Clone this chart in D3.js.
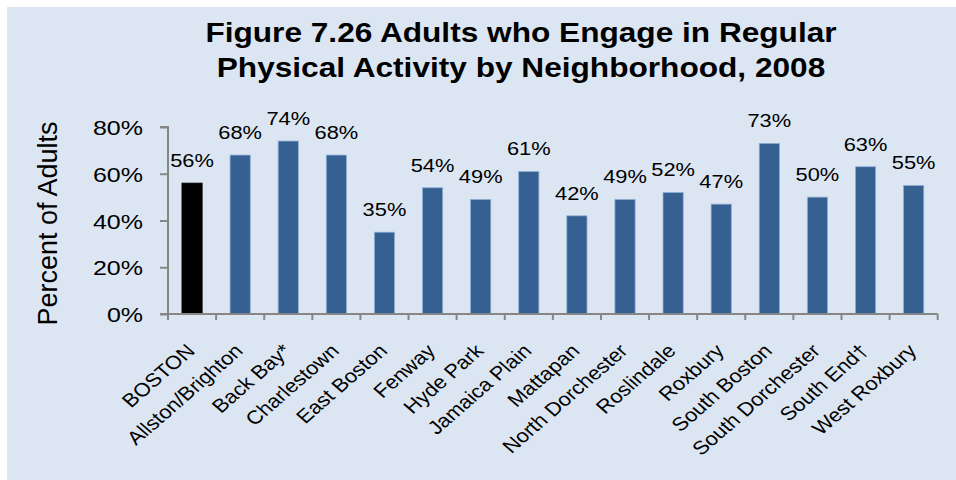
<!DOCTYPE html>
<html><head><meta charset="utf-8">
<script src="https://cdn.jsdelivr.net/npm/d3@7"></script>
<style>body{margin:0;background:#fff}svg{display:block}text{font-family:"Liberation Sans",Arial,sans-serif}</style>
</head><body>
<svg id="c" width="956" height="480"></svg>
<script>
const categories = ["BOSTON","Allston/Brighton","Back Bay*","Charlestown","East Boston","Fenway","Hyde Park","Jamaica Plain","Mattapan","North Dorchester","Roslindale","Roxbury","South Boston","South Dorchester","South End\u2020","West Roxbury"];
const values = [56,68,74,68,35,54,49,61,42,49,52,47,73,50,63,55];
const yTicks = [0,20,40,60,80];
const titleLines = ["Figure 7.26 Adults who Engage in Regular","Physical Activity by Neighborhood, 2008"];
const yTitle = "Percent of Adults";

const SX = 1.15; // horizontal stretch of text seen in the reference
const svg = d3.select("#c");
svg.append("rect").attr("x",7).attr("y",7).attr("width",949).attr("height",473).attr("fill","#dce6f2");

const m = {left:168, right:937.7, top:127, bottom:314};
const x = d3.scaleBand().domain(categories).range([m.left, m.right]).paddingInner(0.58).paddingOuter(0.29);
const xb = d3.scaleBand().domain(categories).range([m.left, m.right]);
const y = d3.scaleLinear().domain([0,80]).range([m.bottom, m.top]);

// title
svg.append("g").selectAll("text").data(titleLines).join("text")
  .attr("transform",(d,i)=>`translate(521,${42+i*35}) scale(${SX},1)`).attr("text-anchor","middle")
  .attr("font-size",27.5).attr("font-weight","bold").attr("fill","#000").text(d=>d);

// y axis
const yAxis = svg.append("g").attr("transform",`translate(${m.left},0)`)
  .call(d3.axisLeft(y).tickValues(yTicks).tickFormat(d=>d+"%").tickSize(8).tickPadding(25));
yAxis.select(".domain").attr("stroke","#868686").attr("stroke-width",2).attr("d",`M-8,${m.top}H0V${m.bottom}`);
yAxis.selectAll(".tick line").attr("stroke","#868686").attr("stroke-width",2);
yAxis.selectAll(".tick text").attr("font-size",20).attr("fill","#000")
  .attr("font-family","Liberation Sans, Arial, sans-serif")
  .attr("x",null).attr("dy",null)
  .attr("transform",`translate(-25,7.5) scale(${SX+0.1},1)`);

svg.append("text").attr("transform",`translate(57,223.5) rotate(-90)`)
  .attr("text-anchor","middle").attr("font-size",27).attr("fill","#000").text(yTitle);

// bars
svg.append("g").selectAll("rect").data(values).join("rect")
  .attr("x",(d,i)=>x(categories[i])).attr("width",x.bandwidth())
  .attr("y",d=>y(d)).attr("height",d=>y(0)-y(d))
  .attr("fill",(d,i)=>i===0?"#000":"#365f92")
  .attr("stroke",(d,i)=>i===0?"#000":"#8fb0d8").attr("stroke-width",0.8);

// labels
svg.append("g").selectAll("text").data(values).join("text")
  .attr("transform",(d,i)=>`translate(${x(categories[i])+x.bandwidth()/2},${y(d)-16}) scale(${SX},1)`)
  .attr("text-anchor","middle").attr("font-size",19).attr("fill","#000").text(d=>d+"%");

// x axis
const xAxis = svg.append("g").attr("transform",`translate(0,${m.bottom})`)
  .call(d3.axisBottom(xb).tickSize(0).tickFormat(""));
xAxis.select(".domain").attr("stroke","#868686").attr("stroke-width",2).attr("d",`M${m.left-8},0H${m.right}`);
xAxis.selectAll(".tick").remove();
const edges = d3.range(categories.length+1).map(i=>m.left+i*xb.step());
svg.append("g").selectAll("line").data(edges).join("line")
  .attr("x1",d=>d).attr("x2",d=>d).attr("y1",m.bottom).attr("y2",m.bottom+6)
  .attr("stroke","#868686").attr("stroke-width",2);

svg.append("g").selectAll("text").data(categories).join("text")
  .attr("transform",d=>`translate(${xb(d)+xb.bandwidth()/2+4},352) scale(${SX},1) rotate(-45)`)
  .attr("text-anchor","end").attr("font-size",19).attr("fill","#000").text(d=>d);
</script>
</body></html>
